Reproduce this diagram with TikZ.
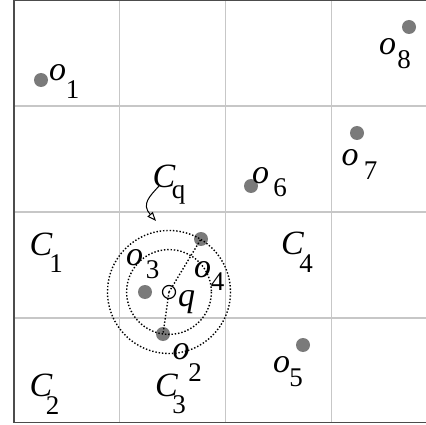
\documentclass[tikz,border=0pt]{standalone}
\usepackage{fontspec}
\setmainfont{Liberation Serif}
\usetikzlibrary{arrows.meta}
\tikzset{
  lbl/.style={font=\fontsize{34}{34}\selectfont\itshape, inner sep=0pt},
  subl/.style={font=\fontsize{27}{27}\selectfont, inner sep=0pt},
  pt/.style={circle, fill=black!52, inner sep=0pt, minimum size=14pt},
  gridline/.style={draw=black!22, line width=1.1pt},
  dotline/.style={line width=1.4pt, dash pattern=on 1.4pt off 1.9pt},
}
\begin{document}
\begin{tikzpicture}[x=1pt,y=-1pt]
\useasboundingbox (0,0) rectangle (426,425);
\clip (0,0) rectangle (426,425);
% grid
\foreach \x in {119.5,225.5,331.5} \draw[gridline] (\x,0) -- (\x,423);
\foreach \y in {106,212,318} \draw[gridline] (14,\y) -- (426,\y);
% border
\draw[draw=black!70, line width=1.4pt] (14,0.8) rectangle (440,422.5);
% objects
\node[pt] (o1) at (41,80) {};
\node[pt] (o8) at (409,27) {};
\node[pt] (o7) at (357,133) {};
\node[pt] (o6) at (251,186) {};
\node[pt] (o5) at (303,345) {};
\node[pt] (o3) at (145,292) {};
\node[pt] (o4) at (201,239) {};
\node[pt] (o2) at (163,334) {};
% query
\coordinate (qc) at (169,292);
\draw[dotline] (qc) circle (42.4);
\draw[dotline] (qc) circle (61.5);
\draw[dotline] (qc) -- (o4.center);
\draw[dotline] (qc) -- (o2.center);
\node[draw=black, line width=1.2pt, circle, inner sep=0pt, minimum size=13pt] (q) at (qc) {};
% labels
\node[lbl] (o1l) at (57.5,72.5) {o};
\node[subl] (o1s) at (72.5,89.5) {1};
\node[lbl] (o8l) at (387.5,47) {o};
\node[subl] (o8s) at (404,60) {8};
\node[lbl] (o7l) at (350,157.5) {o};
\node[subl] (o7s) at (370.5,171) {7};
\node[lbl] (o6l) at (260.5,175.5) {o};
\node[subl] (o6s) at (280,188) {6};
\node[lbl] (o5l) at (281.5,364.5) {o};
\node[subl] (o5s) at (296,377.5) {5};
\node[lbl] (o3l) at (134.5,257.5) {o};
\node[subl] (o3s) at (152.5,270) {3};
\node[lbl] (o4l) at (202.5,269.5) {o};
\node[subl] (o4s) at (217.5,281.5) {4};
\node[lbl] (o2l) at (181,351.5) {o};
\node[subl] (o2s) at (195,372.5) {2};
\node[lbl] (ql) at (186.5,302.5) {q};
\node[lbl] (C1l) at (41,244) {C};
\node[subl] (C1s) at (56,264) {1};
\node[lbl] (C2l) at (41,385) {C};
\node[subl] (C2s) at (52.5,406) {2};
\node[lbl] (C3l) at (166.5,385) {C};
\node[subl] (C3s) at (179,405) {3};
\node[lbl] (C4l) at (292.5,243.5) {C};
\node[subl] (C4s) at (306,264) {4};
\node[lbl] (Cql) at (164,176) {C};
\node[subl] (Cqs) at (178.5,195) {q};
% arrow
\coordinate (arS) at (159,186);
\coordinate (arE) at (156,221);
\draw[line width=1pt, -{Triangle[open, length=9pt, width=7pt]}] (arS) .. controls (150,196) and (141,204) .. (arE);
\end{tikzpicture}
\end{document}
